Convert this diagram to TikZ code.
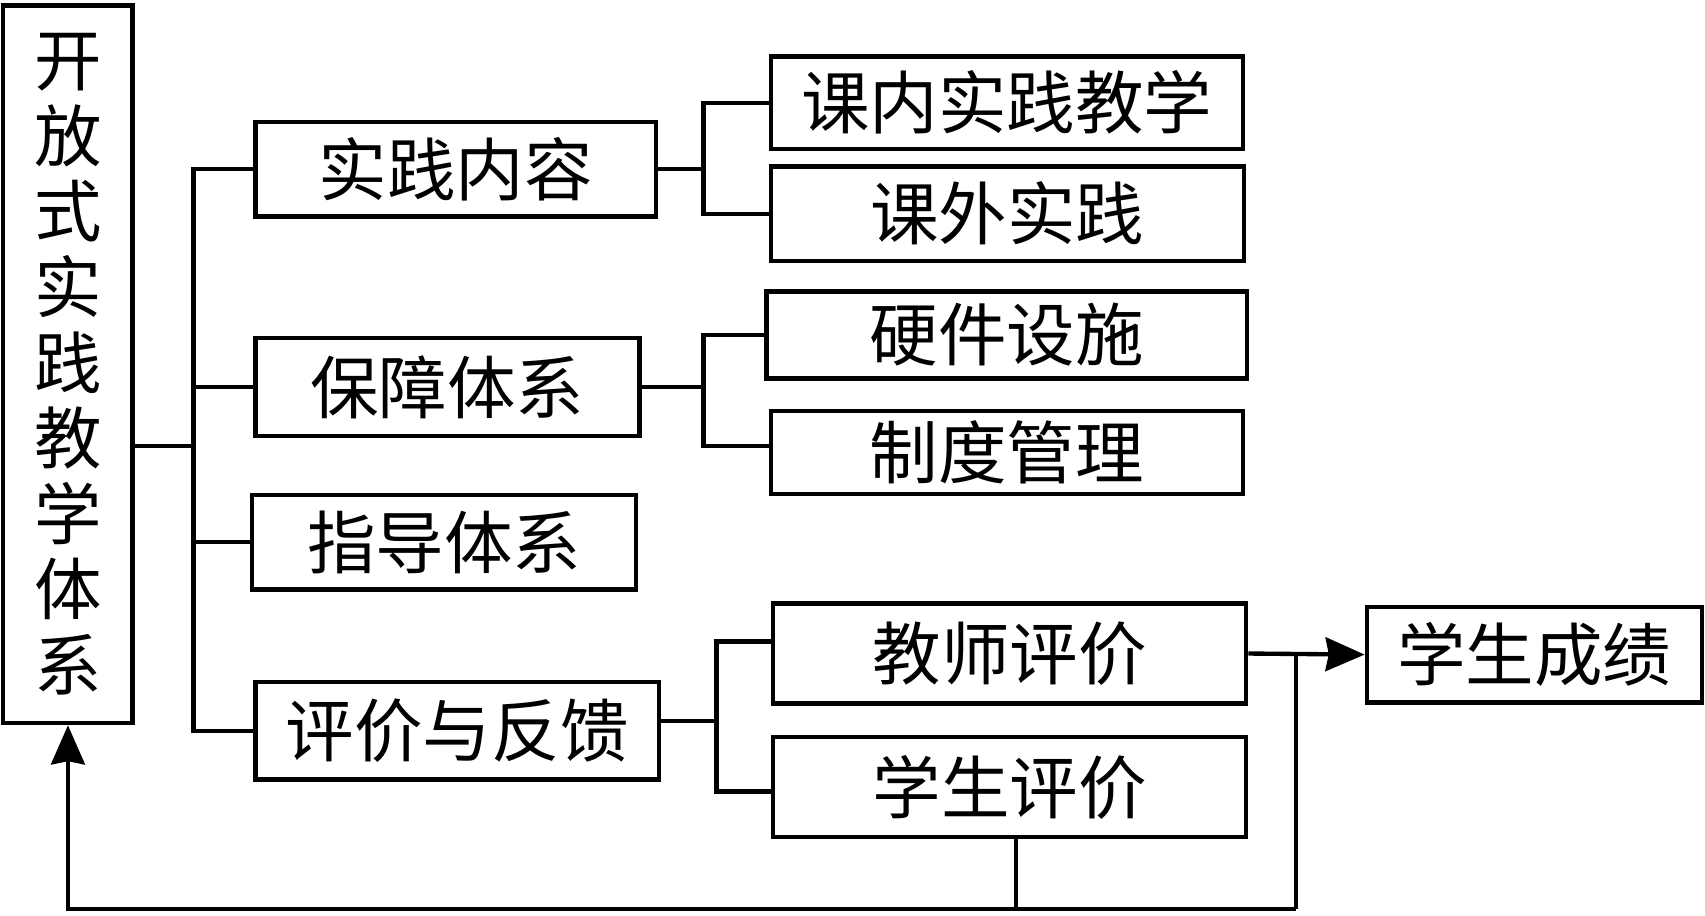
\documentclass[tikz,border=0pt]{standalone}
\usepackage{fontspec}
\newfontfamily\cjk{Noto Sans CJK SC}
\usetikzlibrary{arrows.meta}
\begin{document}
\begin{tikzpicture}[x=1pt,y=-1pt,
  box/.style={draw, line width=4pt, inner sep=0pt, font=\cjk\fontsize{63}{70}\selectfont},
  conn/.style={line width=4pt},
  arr/.style={line width=4pt, arrows={-Stealth[length=36pt,width=31pt,inset=3pt]}}]
\useasboundingbox (0,0) rectangle (1568,841.5);
% main vertical box
\node[box, minimum width=119pt, minimum height=660pt, align=center,
      font=\cjk\fontsize{62}{69.5}\selectfont] (L) at (62.5,335)
  {开\\放\\式\\实\\践\\教\\学\\体\\系};
% second level
\node[box, minimum width=368pt, minimum height=87pt] (A) at (419,155.5) {实践内容};
\node[box, minimum width=353pt, minimum height=90pt] (B) at (411.5,356) {保障体系};
\node[box, minimum width=353pt, minimum height=87pt] (C) at (408.5,498.5) {指导体系};
\node[box, minimum width=371pt, minimum height=90pt] (D) at (420.5,672) {评价与反馈};
% third level
\node[box, minimum width=434pt, minimum height=85pt] (A1) at (926,94.5) {课内实践教学};
\node[box, minimum width=435pt, minimum height=87pt] (A2) at (926.5,196.5) {课外实践};
\node[box, minimum width=442pt, minimum height=80pt] (B1) at (926,308) {硬件设施};
\node[box, minimum width=434pt, minimum height=76pt] (B2) at (926,416) {制度管理};
\node[box, minimum width=435pt, minimum height=92pt] (D1) at (928.5,601) {教师评价};
\node[box, minimum width=435pt, minimum height=92pt] (D2) at (928.5,724) {学生评价};
\node[box, minimum width=308pt, minimum height=88pt] (E) at (1411,602) {学生成绩};
% junction coordinates
\coordinate (t) at (178,410);
\coordinate (ja) at (647,0);
\coordinate (jd) at (659,0);
\coordinate (bl) at (62.5,836);
\coordinate (br) at (1192,836);
% trunk
\draw[conn] (L.east |- t) -- (t);
\draw[conn] (A.west) -- (A.west -| t) -- (D.west -| t) -- (D.west);
\draw[conn] (B.west) -- (B.west -| t);
\draw[conn] (C.west) -- (C.west -| t);
% branch A
\draw[conn] (A.east) -- (A.east -| ja);
\draw[conn] (A1.west) -- (A1.west -| ja) -- (A2.west -| ja) -- (A2.west);
% branch B
\draw[conn] (B.east) -- (B.east -| ja);
\draw[conn] (B1.west) -- (B1.west -| ja) -- ([yshift=6pt]B2.west -| ja) -- ([yshift=6pt]B2.west);
% branch D
\draw[conn] ([yshift=9pt]D.east) -- ([yshift=9pt]D.east -| jd);
\draw[conn] ([yshift=11pt]D1.west) -- ([yshift=11pt]D1.west -| jd) -- ([yshift=-4pt]D2.west -| jd) -- ([yshift=-4pt]D2.west);
% outputs and feedback
\draw[arr] (D1.east) -- (E.west);
\draw[conn] (D1.east -| br) -- (br);
\draw[conn] ([xshift=6pt]D2.south) -- ([xshift=6pt]D2.south |- br);
\draw[arr] (br) -- (bl) -- (L.south);
\end{tikzpicture}
\end{document}
